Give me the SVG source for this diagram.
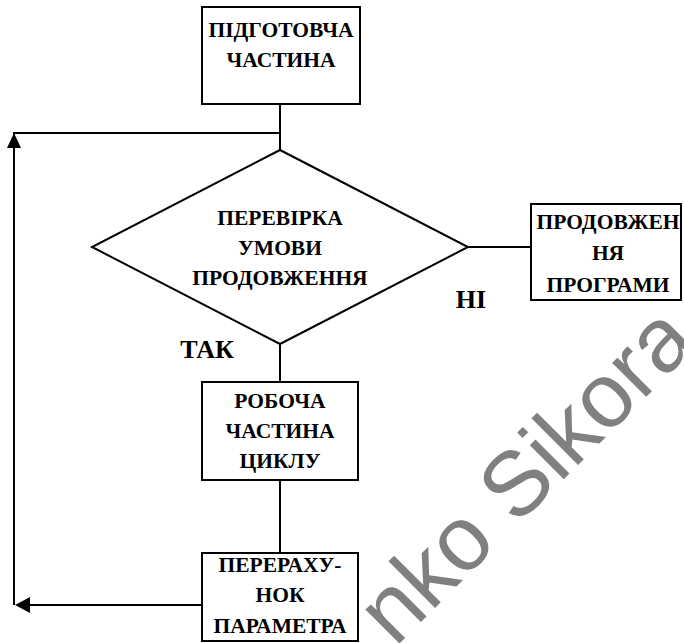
<svg xmlns="http://www.w3.org/2000/svg" width="684" height="643" viewBox="0 0 684 643">
<style>
.box{fill:#fff;stroke:#000;stroke-width:2}
.ln{fill:none;stroke:#000;stroke-width:2}
.t{font-family:"Liberation Serif","Times New Roman",serif;font-weight:bold;font-size:21.5px;text-anchor:middle;fill:#000}
.lbl{font-family:"Liberation Serif","Times New Roman",serif;font-weight:bold;font-size:26px;text-anchor:middle;fill:#000}
.wm{font-family:"Liberation Sans",Arial,sans-serif;font-size:91px;fill:#808080}
</style>
<rect width="684" height="643" fill="#fff"/>
<g id="connectors">
<path class="ln" d="M280,105 V150"/>
<path class="ln" d="M280,133 H14 V147"/>
<path class="ln" d="M14,147 V605"/>
<polygon points="14,133 7,148 21,148" fill="#000"/>
<path class="ln" d="M468,247 H531"/>
<path class="ln" d="M280,344 V382"/>
<path class="ln" d="M280,480 V553"/>
<path class="ln" d="M202,605 H29"/>
<polygon points="15,605 30,597 30,613" fill="#000"/>
</g>
<g id="n-prep">
<rect class="box" x="202" y="7" width="158" height="97"/>
<text class="t" x="281" y="37">ПІДГОТОВЧА</text>
<text class="t" x="281" y="67">ЧАСТИНА</text>
</g>
<g id="n-check">
<polygon class="box" points="280,150 468,247 280,344 92,247"/>
<text class="t" x="280" y="225">ПЕРЕВІРКА</text>
<text class="t" x="280" y="255">УМОВИ</text>
<text class="t" x="280" y="285">ПРОДОВЖЕННЯ</text>
</g>
<g id="n-cont">
<rect class="box" x="531" y="204" width="150" height="96"/>
<text class="t" x="608" y="229">ПРОДОВЖЕН</text>
<text class="t" x="608" y="260">НЯ</text>
<text class="t" x="608" y="292">ПРОГРАМИ</text>
</g>
<g id="n-work">
<rect class="box" x="202" y="382" width="156" height="98"/>
<text class="t" x="280" y="408">РОБОЧА</text>
<text class="t" x="280" y="438">ЧАСТИНА</text>
<text class="t" x="280" y="468">ЦИКЛУ</text>
</g>
<g id="n-recalc">
<rect class="box" x="202" y="553" width="156" height="88"/>
<text class="t" x="280" y="572">ПЕРЕРАХУ-</text>
<text class="t" x="280" y="602">НОК</text>
<text class="t" x="280" y="633">ПАРАМЕТРА</text>
</g>
<g id="labels">
<text class="lbl" x="207" y="358">ТАК</text>
<text class="lbl" x="471" y="308">НІ</text>
</g>
<text class="wm" x="547" y="496" text-anchor="middle" transform="rotate(-45 547 496)">nko Sikora</text>
</svg>
